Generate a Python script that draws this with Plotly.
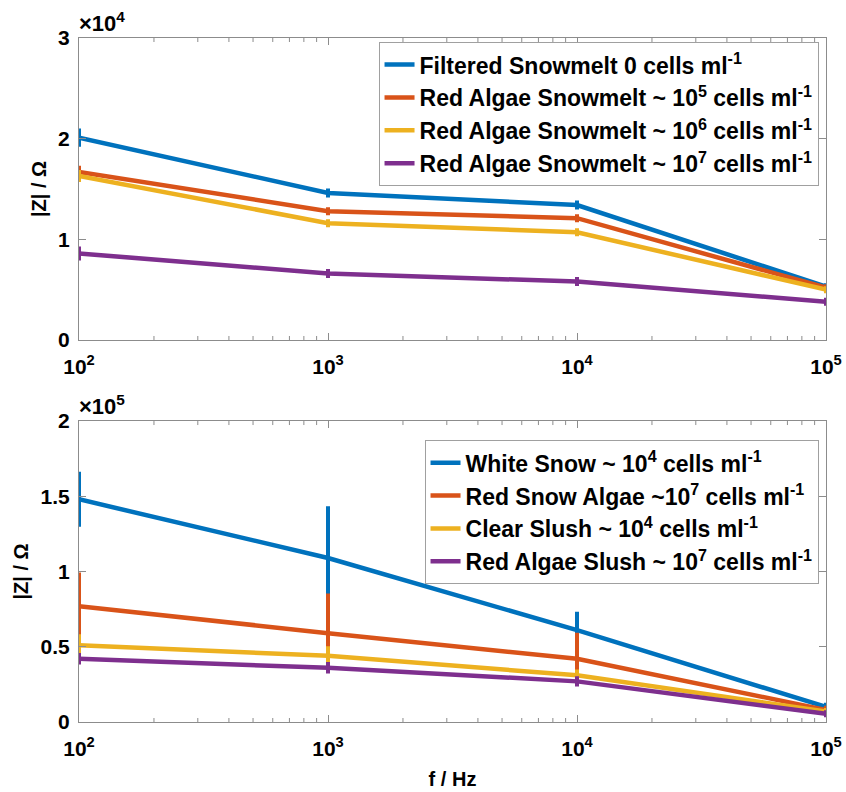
import plotly.graph_objects as go

# Frequencies (Hz)
freq = [1e2, 1e3, 1e4, 1e5]

# Upper panel: snowmelt samples, |Z| in ohms
top_names = [
    "Filtered Snowmelt 0 cells ml<sup>-1</sup>",
    "Red Algae Snowmelt ~ 10<sup>5</sup> cells ml<sup>-1</sup>",
    "Red Algae Snowmelt ~ 10<sup>6</sup> cells ml<sup>-1</sup>",
    "Red Algae Snowmelt ~ 10<sup>7</sup> cells ml<sup>-1</sup>",
]
top_z = [
    [20100, 14600, 13400, 5300],
    [16700, 12800, 12100, 5200],
    [16300, 11600, 10700, 5000],
    [8600, 6600, 5800, 3800],
]
top_err = [
    [700, 250, 250, 150],
    [400, 200, 200, 150],
    [400, 200, 200, 150],
    [500, 250, 250, 200],
]

# Lower panel: snow and slush samples, |Z| in ohms
bot_names = [
    "White Snow ~ 10<sup>4</sup> cells ml<sup>-1</sup>",
    "Red Snow Algae ~10<sup>7</sup> cells ml<sup>-1</sup>",
    "Clear Slush ~ 10<sup>4</sup> cells ml<sup>-1</sup>",
    "Red Algae Slush ~ 10<sup>7</sup> cells ml<sup>-1</sup>",
]
bot_z = [
    [148000, 109000, 61000, 10000],
    [77000, 59000, 42000, 8000],
    [51000, 44000, 31000, 7000],
    [42000, 36000, 27000, 5500],
]
bot_err = [
    [17000, 33000, 11000, 1500],
    [21000, 25000, 16000, 1500],
    [6000, 5000, 2500, 1000],
    [2500, 2500, 2000, 1000],
]

colors = ["#0072BD", "#D95319", "#EDB120", "#7E2F8E"]
x_ticks = [1e2, 1e3, 1e4, 1e5]
x_ticktext = ["10<sup>2</sup>", "10<sup>3</sup>", "10<sup>4</sup>", "10<sup>5</sup>"]
x_minor = [m * 10 ** d for d in (2, 3, 4) for m in range(2, 10)]

FONT = "Liberation Sans, Arial, sans-serif"
AXCOL = "#8c8c8c"

fig = go.Figure()

for name, z, e, c in zip(top_names, top_z, top_err, colors):
    fig.add_trace(go.Scatter(
        x=freq, y=z, name=name, mode="lines",
        line=dict(color=c, width=4.5),
        error_y=dict(type="data", array=e, color=c, thickness=4, width=2),
        xaxis="x", yaxis="y", legend="legend",
    ))

for name, z, e, c in zip(bot_names, bot_z, bot_err, colors):
    fig.add_trace(go.Scatter(
        x=freq, y=z, name=name, mode="lines",
        line=dict(color=c, width=4.5),
        error_y=dict(type="data", array=e, color=c, thickness=4, width=2),
        xaxis="x2", yaxis="y2", legend="legend2",
    ))

tickfont = dict(family=FONT, size=21, color="black", weight="bold")
titlefont = dict(family=FONT, size=20, color="black", weight="bold")

xaxis_common = dict(
    type="log", range=[2, 5], tickmode="array", tickvals=x_ticks, ticktext=x_ticktext,
    ticks="inside", ticklen=7, tickcolor=AXCOL, showline=True, linecolor=AXCOL,
    linewidth=1, mirror="ticks", showgrid=False, zeroline=False,
    tickfont=tickfont, ticklabelstandoff=8, automargin=False,
)
yaxis_common = dict(
    ticks="inside", ticklen=7, tickcolor=AXCOL, showline=True, linecolor=AXCOL,
    linewidth=1, mirror="ticks", showgrid=False, zeroline=False,
    tickfont=tickfont, ticklabelstandoff=4, automargin=False,
    title=dict(text="|Z| / Ω", font=titlefont, standoff=6),
)

legend_common = dict(
    font=dict(family=FONT, size=23, color="black", weight="bold"),
    bgcolor="white", bordercolor="#a0a0a0", borderwidth=1,
    xanchor="right", yanchor="top", tracegroupgap=0, itemwidth=30,
)

fig.update_layout(
    width=846, height=792,
    margin=dict(l=79, r=20, t=38, b=70),
    paper_bgcolor="white", plot_bgcolor="white",
    xaxis=dict(domain=[0, 1], anchor="y", **xaxis_common),
    yaxis=dict(domain=[0.5585, 1], anchor="x", range=[0, 30000],
               tickvals=[0, 10000, 20000, 30000], ticktext=["0", "1", "2", "3"],
               **yaxis_common),
    xaxis2=dict(domain=[0, 1], anchor="y2",
                title=dict(text="f / Hz", font=titlefont, standoff=12),
                **xaxis_common),
    yaxis2=dict(domain=[0, 0.44], anchor="x2", range=[0, 200000],
                tickvals=[0, 50000, 100000, 150000, 200000],
                ticktext=["0", "0.5", "1", "1.5", "2"],
                **yaxis_common),
    legend=dict(x=0.99, y=0.994, **legend_common),
    legend2=dict(x=0.99, y=0.412, **legend_common),
    showlegend=True,
)

# Minor log ticks (2..9 per decade) on the bottom and top edges of both panels
for xr, yr in [("x", "y domain"), ("x2", "y2 domain")]:
    for f in x_minor:
        for anchor, y0, y1 in [(0, 0, 4), (1, 0, -4)]:
            fig.add_shape(
                type="line", xref=xr, yref=yr, x0=f, x1=f,
                ysizemode="pixel", yanchor=anchor, y0=y0, y1=y1,
                line=dict(color=AXCOL, width=1), layer="above",
            )

# Axis scale factors shown above each panel
for ytop, exp in [(1.0, "4"), (0.44, "5")]:
    fig.add_annotation(
        x=0, y=ytop, xref="paper", yref="paper", xanchor="left", yanchor="bottom",
        text="×10<sup>%s</sup>" % exp, showarrow=False, xshift=-2, yshift=0,
        font=dict(family=FONT, size=22, color="black", weight="bold"),
    )

fig.write_html("out.html")
